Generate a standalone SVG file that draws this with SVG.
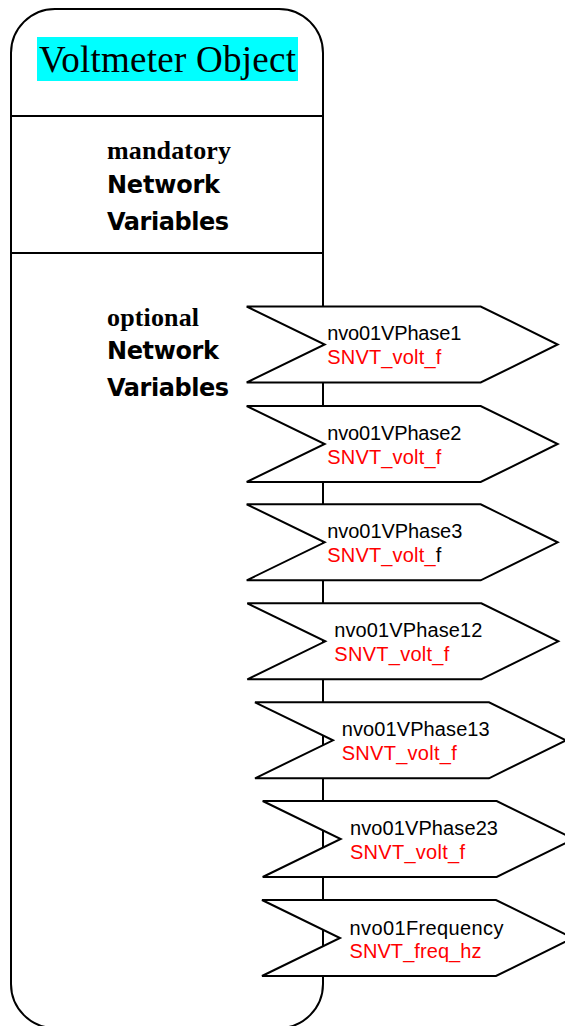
<svg xmlns="http://www.w3.org/2000/svg" width="565" height="1026" viewBox="0 0 565 1026">
<style>
.ln{fill:none;stroke:#000;stroke-width:2}
.ar{fill:#fff;stroke:#000;stroke-width:2;stroke-linejoin:miter}
.nm{font-family:"Liberation Sans",Arial,sans-serif;font-size:20px;fill:#000}
.ty{font-family:"Liberation Sans",Arial,sans-serif;font-size:20px;fill:#FF0000}
.hs{font-family:"Liberation Serif","Times New Roman",serif;font-weight:bold;font-size:26px;fill:#000}
.hb{font-family:"DejaVu Sans","Verdana",sans-serif;font-weight:bold;font-size:24px;fill:#000}
</style>
<defs>
<polygon id="arrow" points="0,0 234,0 311,38 234,76 0,76 78,38"/>
</defs>
<rect width="565" height="1026" fill="#fff"/>
<g id="voltmeter-object">
<rect class="ln" x="11" y="9" width="312" height="1019" rx="44" ry="44"/>
<line class="ln" x1="11" y1="116" x2="323" y2="116"/>
<line class="ln" x1="11" y1="253" x2="323" y2="253"/>
<rect x="37" y="37" width="261" height="44" fill="#00FFFF"/>
<text x="39" y="72" font-family="Liberation Serif, Times New Roman, serif" font-size="37" fill="#000" textLength="257">Voltmeter Object</text>
</g>
<g id="mandatory-section">
<text class="hs" x="107" y="159" textLength="124">mandatory</text>
<text class="hb" x="107" y="193" textLength="113">Network</text>
<text class="hb" x="107" y="230" textLength="122">Variables</text>
</g>
<g id="optional-section">
<text class="hs" x="107" y="326" textLength="92">optional</text>
<text class="hb" x="107" y="359" textLength="112">Network</text>
<text class="hb" x="107" y="396" textLength="122">Variables</text>
</g>
<g id="connectors"></g>
<g id="nvo01VPhase1" transform="translate(246.7,306.5)">
<use href="#arrow" class="ar"/>
<text class="nm" x="80.6" y="33.5" textLength="134">nvo01VPhase1</text>
<text class="ty" x="80.6" y="57.5" textLength="114">SNVT_volt_f</text>
</g>
<g id="nvo01VPhase2" transform="translate(246.7,406)">
<use href="#arrow" class="ar"/>
<text class="nm" x="80.6" y="33.5" textLength="134">nvo01VPhase2</text>
<text class="ty" x="80.6" y="57.5" textLength="114">SNVT_volt_f</text>
</g>
<g id="nvo01VPhase3" transform="translate(246.7,504.3)">
<use href="#arrow" class="ar"/>
<text class="nm" x="80.6" y="33.5" textLength="135">nvo01VPhase3</text>
<text class="ty" x="80.6" y="57.5" textLength="114"><tspan>SNVT_volt_</tspan><tspan fill="#000">f</tspan></text>
</g>
<g id="nvo01VPhase12" transform="translate(247.3,603.3)">
<use href="#arrow" class="ar"/>
<text class="nm" x="87" y="33.5" textLength="148">nvo01VPhase12</text>
<text class="ty" x="87" y="57.5" textLength="115">SNVT_volt_f</text>
</g>
<g id="nvo01VPhase13" transform="translate(255,702.3)">
<use href="#arrow" class="ar"/>
<text class="nm" x="86.7" y="33.5" textLength="148">nvo01VPhase13</text>
<text class="ty" x="86.7" y="57.5" textLength="115">SNVT_volt_f</text>
</g>
<g id="nvo01VPhase23" transform="translate(262.7,801)">
<use href="#arrow" class="ar"/>
<text class="nm" x="87.3" y="33.5" textLength="148">nvo01VPhase23</text>
<text class="ty" x="87.3" y="57.5" textLength="115">SNVT_volt_f</text>
</g>
<g id="nvo01Frequency" transform="translate(262,900)">
<use href="#arrow" class="ar"/>
<text class="nm" x="87.5" y="34.5" textLength="154">nvo01Frequency</text>
<text class="ty" x="87.5" y="57.5" textLength="132">SNVT_freq_hz</text>
</g>
</svg>
